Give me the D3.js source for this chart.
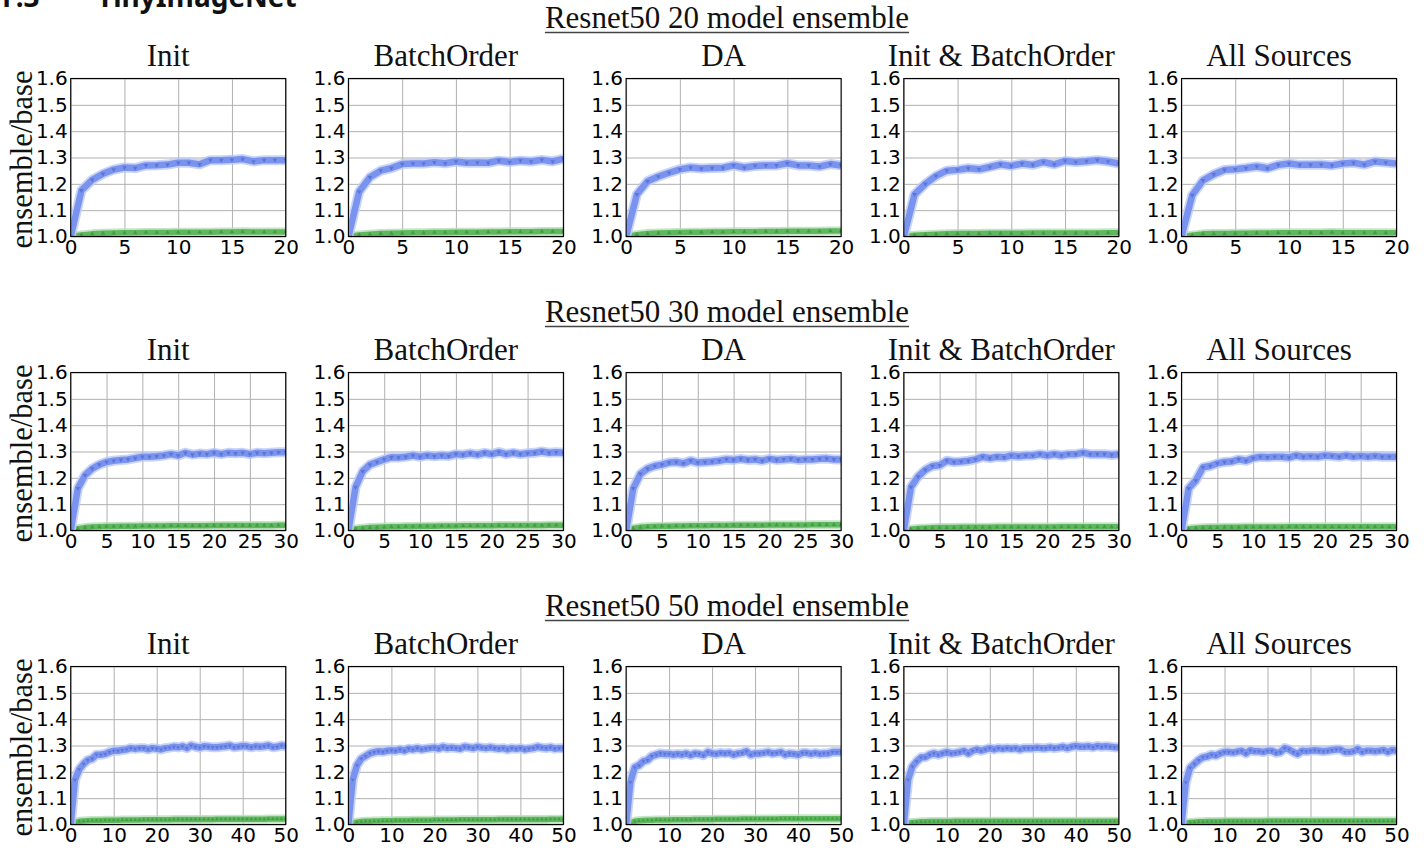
<!DOCTYPE html>
<html>
<head>
<meta charset="utf-8">
<script src="https://cdn.jsdelivr.net/npm/d3@7"></script>
<style>
  html, body { margin: 0; padding: 0; background: #fff; }
  svg { display: block; }
</style>
</head>
<body>
<svg id="chart" width="1424" height="850"></svg>
<script>
// ---------------- DATA ----------------
const panelTitles = ["Init", "BatchOrder", "DA", "Init & BatchOrder", "All Sources"];
const rowTitles = ["Resnet50 20 model ensemble", "Resnet50 30 model ensemble", "Resnet50 50 model ensemble"];
const rowMaxX = [20, 30, 50];
const xTicksRow = [
  [0, 5, 10, 15, 20],
  [0, 5, 10, 15, 20, 25, 30],
  [0, 10, 20, 30, 40, 50]
];
const yTicks = [1.0, 1.1, 1.2, 1.3, 1.4, 1.5, 1.6];
const yTickLabels = ["1.0", "1.1", "1.2", "1.3", "1.4", "1.5", "1.6"];
const yLabel = "ensemble/base";

// Row 1: 20 model ensemble (x = 0..20)
const blue20_Init = [1.000,1.175,1.215,1.238,1.254,1.262,1.260,1.270,1.271,1.273,1.280,1.280,1.274,1.290,1.290,1.291,1.294,1.285,1.290,1.290,1.290];
const blue20_BO   = [1.000,1.170,1.225,1.250,1.260,1.275,1.277,1.277,1.282,1.278,1.285,1.280,1.281,1.280,1.288,1.283,1.288,1.285,1.291,1.285,1.295];
const blue20_DA   = [1.000,1.160,1.210,1.228,1.242,1.255,1.262,1.258,1.260,1.261,1.270,1.262,1.268,1.270,1.270,1.278,1.270,1.270,1.266,1.275,1.270];
const blue20_IBO  = [1.000,1.160,1.200,1.230,1.250,1.253,1.259,1.255,1.264,1.274,1.268,1.277,1.272,1.283,1.274,1.287,1.283,1.286,1.290,1.285,1.277];
const blue20_All  = [1.000,1.157,1.213,1.236,1.253,1.255,1.260,1.266,1.259,1.272,1.277,1.272,1.272,1.273,1.270,1.277,1.280,1.273,1.285,1.281,1.277];
const green20_Init = [1.000,1.006,1.010,1.012,1.013,1.014,1.014,1.015,1.015,1.015,1.016,1.016,1.016,1.016,1.017,1.017,1.018,1.017,1.017,1.017,1.017];
const green20_BO   = [1.000,1.006,1.009,1.011,1.012,1.013,1.014,1.014,1.015,1.015,1.016,1.016,1.016,1.017,1.017,1.018,1.018,1.018,1.019,1.019,1.019];
const green20_DA   = [1.000,1.007,1.011,1.013,1.014,1.015,1.016,1.016,1.017,1.017,1.018,1.018,1.018,1.019,1.019,1.020,1.020,1.020,1.020,1.021,1.021];
const green20_IBO  = [1.000,1.005,1.007,1.009,1.010,1.011,1.011,1.011,1.012,1.012,1.012,1.012,1.013,1.013,1.013,1.013,1.013,1.013,1.013,1.014,1.014];
const green20_All  = [1.000,1.005,1.010,1.011,1.011,1.012,1.012,1.013,1.013,1.014,1.014,1.014,1.014,1.014,1.015,1.014,1.014,1.014,1.014,1.014,1.014];

// Row 2: 30 model ensemble (x = 0..30)
const blue30_Init = [1.000,1.160,1.210,1.235,1.250,1.260,1.265,1.268,1.270,1.275,1.280,1.280,1.282,1.285,1.290,1.285,1.295,1.288,1.292,1.290,1.295,1.290,1.295,1.293,1.295,1.290,1.295,1.293,1.295,1.297,1.297];
const blue30_BO   = [1.000,1.165,1.225,1.250,1.260,1.270,1.278,1.277,1.280,1.285,1.280,1.285,1.282,1.285,1.283,1.290,1.288,1.293,1.288,1.295,1.290,1.298,1.290,1.295,1.290,1.293,1.295,1.300,1.295,1.297,1.295];
const blue30_DA   = [1.000,1.160,1.215,1.235,1.245,1.250,1.258,1.260,1.255,1.265,1.258,1.260,1.262,1.265,1.270,1.268,1.272,1.268,1.270,1.265,1.272,1.268,1.270,1.272,1.268,1.270,1.270,1.272,1.273,1.270,1.270];
const blue30_IBO  = [1.000,1.165,1.205,1.230,1.245,1.248,1.265,1.260,1.262,1.265,1.270,1.280,1.275,1.280,1.278,1.285,1.282,1.285,1.285,1.290,1.285,1.290,1.285,1.290,1.290,1.295,1.290,1.290,1.290,1.287,1.290];
const blue30_All  = [1.000,1.160,1.190,1.240,1.245,1.255,1.260,1.262,1.270,1.265,1.275,1.280,1.278,1.280,1.280,1.277,1.285,1.280,1.282,1.280,1.285,1.283,1.280,1.285,1.280,1.283,1.280,1.283,1.280,1.280,1.280];
const green30_Init = [1.000,1.007,1.011,1.013,1.014,1.015,1.015,1.016,1.016,1.016,1.017,1.017,1.017,1.017,1.018,1.018,1.018,1.018,1.018,1.018,1.019,1.019,1.019,1.019,1.019,1.019,1.019,1.019,1.019,1.020,1.020];
const green30_BO   = [1.000,1.006,1.009,1.011,1.012,1.013,1.014,1.014,1.015,1.015,1.016,1.016,1.016,1.017,1.017,1.017,1.018,1.018,1.018,1.018,1.018,1.019,1.019,1.019,1.019,1.019,1.019,1.019,1.020,1.020,1.020];
const green30_DA   = [1.000,1.008,1.012,1.014,1.015,1.016,1.016,1.017,1.017,1.018,1.018,1.018,1.019,1.019,1.019,1.020,1.020,1.020,1.020,1.020,1.021,1.021,1.021,1.021,1.021,1.021,1.022,1.022,1.022,1.022,1.022];
const green30_IBO  = [1.000,1.005,1.008,1.009,1.010,1.011,1.011,1.011,1.012,1.012,1.012,1.012,1.012,1.013,1.013,1.013,1.013,1.013,1.013,1.013,1.013,1.013,1.014,1.014,1.014,1.014,1.014,1.014,1.014,1.014,1.014];
const green30_All  = [1.000,1.006,1.009,1.010,1.011,1.011,1.012,1.012,1.012,1.013,1.013,1.013,1.013,1.013,1.013,1.014,1.014,1.014,1.014,1.014,1.014,1.014,1.014,1.014,1.014,1.014,1.014,1.014,1.014,1.014,1.014];

// Row 3: 50 model ensemble (x = 0..50)
const blue50_Init = [1.000,1.170,1.210,1.230,1.245,1.250,1.265,1.265,1.268,1.275,1.280,1.280,1.283,1.285,1.290,1.287,1.290,1.290,1.285,1.290,1.288,1.285,1.290,1.292,1.295,1.293,1.297,1.290,1.300,1.295,1.292,1.297,1.295,1.293,1.293,1.295,1.297,1.300,1.293,1.295,1.298,1.297,1.293,1.297,1.295,1.297,1.300,1.293,1.295,1.300,1.297];
const blue50_BO   = [1.000,1.170,1.225,1.250,1.260,1.270,1.275,1.278,1.276,1.280,1.282,1.280,1.285,1.280,1.288,1.285,1.290,1.285,1.288,1.290,1.292,1.288,1.295,1.290,1.292,1.290,1.288,1.295,1.293,1.290,1.295,1.292,1.290,1.293,1.290,1.288,1.290,1.285,1.290,1.287,1.290,1.285,1.288,1.290,1.295,1.292,1.290,1.293,1.288,1.290,1.290];
const blue50_DA   = [1.000,1.161,1.217,1.225,1.240,1.245,1.260,1.265,1.270,1.268,1.268,1.265,1.268,1.265,1.270,1.263,1.270,1.268,1.263,1.275,1.270,1.268,1.272,1.270,1.272,1.265,1.270,1.272,1.278,1.265,1.270,1.270,1.272,1.275,1.270,1.272,1.275,1.265,1.270,1.268,1.265,1.272,1.272,1.268,1.272,1.268,1.270,1.270,1.275,1.275,1.275];
const blue50_IBO  = [1.000,1.170,1.220,1.240,1.255,1.255,1.265,1.270,1.265,1.270,1.275,1.270,1.272,1.275,1.280,1.270,1.280,1.285,1.280,1.285,1.290,1.285,1.290,1.287,1.290,1.288,1.290,1.285,1.290,1.290,1.290,1.292,1.290,1.290,1.293,1.290,1.292,1.295,1.290,1.295,1.298,1.295,1.295,1.297,1.293,1.298,1.295,1.297,1.295,1.293,1.292];
const blue50_All  = [1.000,1.160,1.215,1.230,1.245,1.255,1.258,1.265,1.262,1.270,1.275,1.275,1.273,1.277,1.280,1.270,1.282,1.278,1.278,1.275,1.280,1.280,1.272,1.275,1.290,1.285,1.275,1.268,1.280,1.278,1.280,1.282,1.280,1.278,1.280,1.283,1.285,1.285,1.275,1.275,1.278,1.287,1.275,1.280,1.280,1.278,1.280,1.283,1.275,1.283,1.280];
const green50_Init = [1.000,1.008,1.012,1.013,1.014,1.015,1.015,1.015,1.016,1.016,1.016,1.016,1.017,1.017,1.017,1.017,1.017,1.018,1.018,1.018,1.018,1.018,1.018,1.018,1.019,1.019,1.019,1.019,1.019,1.019,1.019,1.019,1.019,1.019,1.020,1.020,1.020,1.020,1.020,1.020,1.020,1.020,1.020,1.020,1.020,1.020,1.021,1.021,1.021,1.021,1.021];
const green50_BO   = [1.000,1.006,1.009,1.011,1.012,1.012,1.013,1.013,1.014,1.014,1.014,1.015,1.015,1.015,1.015,1.016,1.016,1.016,1.016,1.016,1.017,1.017,1.017,1.017,1.017,1.017,1.018,1.018,1.018,1.018,1.018,1.018,1.018,1.018,1.018,1.019,1.019,1.019,1.019,1.019,1.019,1.019,1.019,1.019,1.019,1.019,1.019,1.020,1.020,1.020,1.020];
const green50_DA   = [1.000,1.008,1.012,1.014,1.015,1.016,1.016,1.017,1.017,1.017,1.017,1.018,1.018,1.018,1.018,1.018,1.019,1.019,1.019,1.019,1.019,1.020,1.020,1.020,1.020,1.020,1.020,1.021,1.021,1.021,1.021,1.021,1.021,1.021,1.021,1.021,1.022,1.022,1.022,1.022,1.022,1.022,1.022,1.022,1.022,1.022,1.022,1.022,1.022,1.022,1.022];
const green50_IBO  = [1.000,1.006,1.008,1.009,1.010,1.010,1.011,1.011,1.011,1.011,1.011,1.011,1.012,1.012,1.012,1.012,1.012,1.012,1.012,1.012,1.012,1.012,1.012,1.012,1.012,1.012,1.012,1.012,1.012,1.012,1.012,1.012,1.012,1.012,1.012,1.012,1.012,1.012,1.012,1.012,1.012,1.012,1.012,1.012,1.012,1.012,1.012,1.012,1.012,1.012,1.012];
const green50_All  = [1.000,1.006,1.008,1.009,1.010,1.010,1.011,1.011,1.011,1.011,1.012,1.012,1.012,1.012,1.012,1.012,1.012,1.012,1.012,1.012,1.013,1.013,1.013,1.013,1.013,1.013,1.013,1.013,1.013,1.013,1.013,1.013,1.013,1.013,1.013,1.013,1.013,1.013,1.013,1.013,1.013,1.013,1.013,1.013,1.013,1.013,1.013,1.013,1.013,1.013,1.013];

const blueSeries = [
  [blue20_Init, blue20_BO, blue20_DA, blue20_IBO, blue20_All],
  [blue30_Init, blue30_BO, blue30_DA, blue30_IBO, blue30_All],
  [blue50_Init, blue50_BO, blue50_DA, blue50_IBO, blue50_All]
];
const greenSeries = [
  [green20_Init, green20_BO, green20_DA, green20_IBO, green20_All],
  [green30_Init, green30_BO, green30_DA, green30_IBO, green30_All],
  [green50_Init, green50_BO, green50_DA, green50_IBO, green50_All]
];

// ---------------- LAYOUT ----------------
const svg = d3.select("#chart");
const serif = "'Liberation Serif', 'Times New Roman', serif";
const sans = "'DejaVu Sans', sans-serif";

const colLeft0 = 70.7, colStep = 277.7, plotW = 215;
const rowTop0 = 78.5, rowStep = 294, plotH = 158;

// Page heading, cut off at the top edge as in the reference
svg.append("text").attr("x", 2).attr("y", 7)
  .attr("font-family", "'Noto Sans', 'Open Sans', sans-serif").attr("font-weight", 700)
  .attr("font-size", 28).attr("fill", "#111").text("F.3");
svg.append("text").attr("x", 97).attr("y", 7)
  .attr("font-family", "'Noto Sans', 'Open Sans', sans-serif").attr("font-weight", 700)
  .attr("font-size", 28).attr("fill", "#111").text("TinyImageNet");

const defs = svg.append("defs");

for (let r = 0; r < 3; r++) {
  const top = rowTop0 + r * rowStep;
  const bottom = top + plotH;

  // Row title with underline
  const rt = svg.append("text")
    .attr("x", 727).attr("y", top - 50.5)
    .attr("text-anchor", "middle")
    .attr("font-family", serif).attr("font-size", 31).attr("fill", "#111")
    .text(rowTitles[r]);
  const bb = rt.node().getBBox();
  svg.append("line")
    .attr("x1", bb.x).attr("x2", bb.x + bb.width)
    .attr("y1", top - 46).attr("y2", top - 46)
    .attr("stroke", "#444").attr("stroke-width", 1.6);

  for (let c = 0; c < 5; c++) {
    const left = colLeft0 + c * colStep;
    const x = d3.scaleLinear().domain([0, rowMaxX[r]]).range([left, left + plotW]);
    const y = d3.scaleLinear().domain([1.0, 1.6]).range([bottom, top]);

    const g = svg.append("g");

    // Panel title
    g.append("text")
      .attr("x", left + plotW / 2 - 10).attr("y", top - 12.5)
      .attr("text-anchor", "middle")
      .attr("font-family", serif).attr("font-size", 31).attr("fill", "#111")
      .text(panelTitles[c]);

    // Y axis with grid
    const yAxis = d3.axisLeft(y).tickValues(yTicks)
      .tickFormat((d, i) => yTickLabels[i])
      .tickSize(-plotW).tickPadding(3);
    const ya = g.append("g").attr("transform", `translate(${left},0)`).call(yAxis);
    ya.select(".domain").remove();
    ya.selectAll("line").attr("stroke", "#b0b0b0").attr("stroke-width", 1);
    ya.selectAll("text").attr("font-family", sans).attr("font-size", 20).attr("fill", "#000");

    // X axis with grid
    const xAxis = d3.axisBottom(x).tickValues(xTicksRow[r])
      .tickFormat(d3.format("d"))
      .tickSize(-plotH).tickPadding(3);
    const xa = g.append("g").attr("transform", `translate(0,${bottom})`).call(xAxis);
    xa.select(".domain").remove();
    xa.selectAll("line").attr("stroke", "#b0b0b0").attr("stroke-width", 1);
    xa.selectAll("text").attr("font-family", sans).attr("font-size", 20).attr("fill", "#000")
      .attr("dy", "0.72em");

    // Clip
    const clipId = `clip-${r}-${c}`;
    defs.append("clipPath").attr("id", clipId)
      .append("rect").attr("x", left).attr("y", top).attr("width", plotW).attr("height", plotH);

    const pg = g.append("g").attr("clip-path", `url(#${clipId})`);
    const line = d3.line().x((d, i) => x(i)).y(d => y(d));

    // Green series
    const gs = greenSeries[r][c];
    pg.append("path").datum(gs).attr("d", line)
      .attr("fill", "none").attr("stroke", "#b6dfb6").attr("stroke-width", 9)
      .attr("stroke-linejoin", "round").attr("opacity", 0.8);
    pg.append("path").datum(gs).attr("d", line)
      .attr("fill", "none").attr("stroke", "#5fb85f").attr("stroke-width", 5.5)
      .attr("stroke-linejoin", "round");
    pg.selectAll(null).data(gs).enter().append("path")
      .attr("d", d3.symbol().type(d3.symbolTriangle).size(r === 2 ? 6 : 9))
      .attr("transform", (d, i) => `translate(${x(i)},${y(d)})`)
      .attr("fill", "#3c963c").attr("opacity", 0.8);

    // Blue series
    const bs = blueSeries[r][c];
    pg.append("path").datum(bs).attr("d", line)
      .attr("fill", "none").attr("stroke", "#bccaf6").attr("stroke-width", 10)
      .attr("stroke-linejoin", "round").attr("opacity", 0.8);
    pg.append("path").datum(bs).attr("d", line)
      .attr("fill", "none").attr("stroke", "#7a93ee").attr("stroke-width", 6.5)
      .attr("stroke-linejoin", "round");
    pg.selectAll(null).data(bs).enter().append("path")
      .attr("d", d3.symbol().type(d3.symbolTriangle).size(r === 2 ? 6 : 9))
      .attr("transform", (d, i) => `translate(${x(i)},${y(d)}) rotate(180)`)
      .attr("fill", "#4f67cf").attr("opacity", 0.7);

    // Frame
    g.append("rect")
      .attr("x", left).attr("y", top).attr("width", plotW).attr("height", plotH)
      .attr("fill", "none").attr("stroke", "#000").attr("stroke-width", 1.1);

    // Y label on first column
    if (c === 0) {
      g.append("text")
        .attr("transform", `translate(32,${top + plotH / 2 + 2}) rotate(-90)`)
        .attr("text-anchor", "middle")
        .attr("font-family", serif).attr("font-size", 30.5).attr("fill", "#111")
        .text(yLabel);
    }
  }
}
</script>
</body>
</html>
